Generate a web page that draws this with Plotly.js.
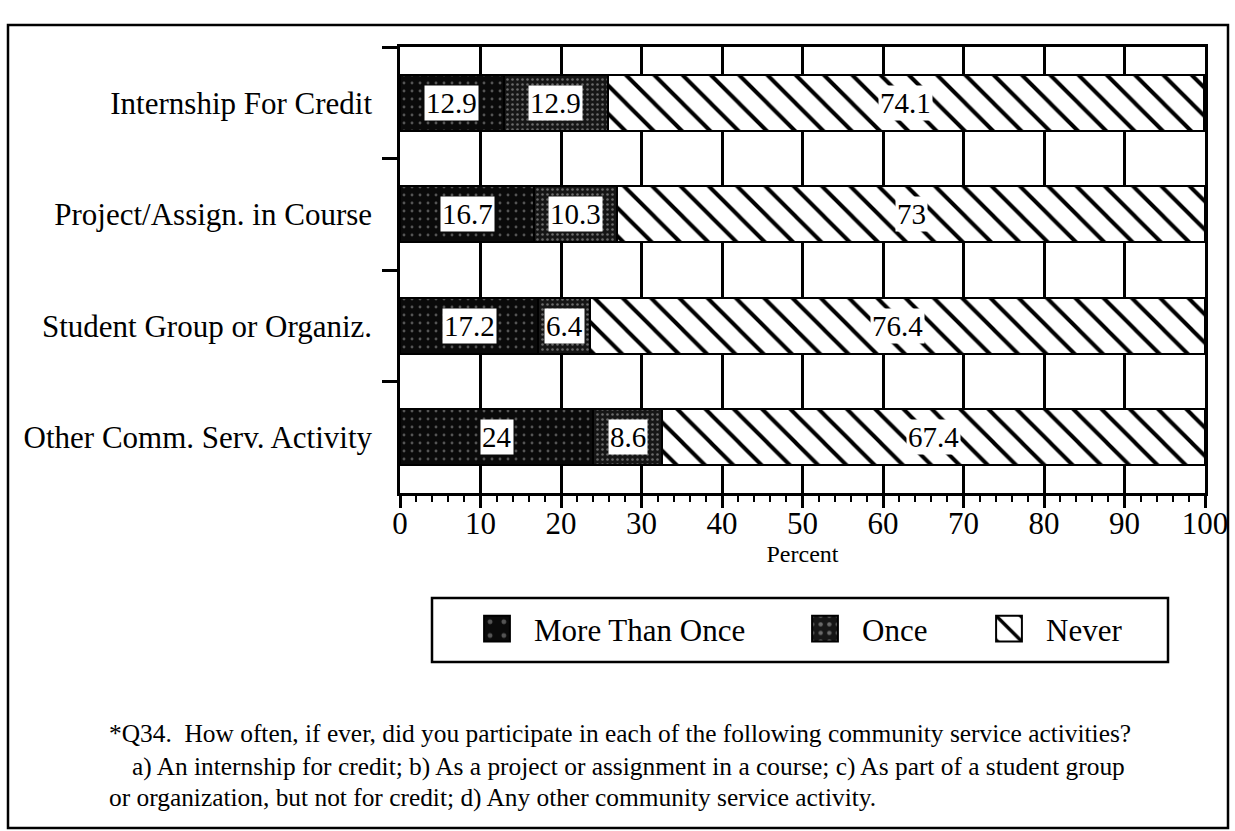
<!DOCTYPE html>
<html><head><meta charset="utf-8">
<script src="https://cdn.plot.ly/plotly-3.0.1.min.js"></script>
<style>html,body{margin:0;padding:0;background:#fff}#chart{width:1235px;height:831px}</style>
</head><body><div id="chart"></div>
<script>
// ---- data ----
const categories = ['Internship For Credit', 'Project/Assign. in Course', 'Student Group or Organiz.', 'Other Comm. Serv. Activity'];
const moreThanOnce = [12.9, 16.7, 17.2, 24];
const once = [12.9, 10.3, 6.4, 8.6];
const never = [74.1, 73, 76.4, 67.4];
const seriesNames = ['More Than Once', 'Once', 'Never'];
const xTickVals = [0, 10, 20, 30, 40, 50, 60, 70, 80, 90, 100];
const xTitle = 'Percent';
const footnote = [
  '*Q34.  How often, if ever, did you participate in each of the following community service activities?',
  'a) An internship for credit; b) As a project or assignment in a course; c) As part of a student group',
  'or organization, but not for credit; d) Any other community service activity.'
];

// ---- layout helpers (pixel -> paper) ----
const W = 1235, H = 831;
const M = {l: 400, r: 30, t: 47, b: 338};
const PW = W - M.l - M.r, PH = H - M.t - M.b;
const px = x => (x - M.l) / PW;
const py = y => (H - M.b - y) / PH;

const FONT = 'Liberation Serif, Times New Roman, serif';
const lineStyle = {color: '#000', width: 2};

const traces = [
  {
    type: 'bar', orientation: 'h', name: seriesNames[0], y: categories, x: moreThanOnce,
    width: 0.5, legend: 'legend',
    marker: {color: '#0a0a0a', line: lineStyle,
      pattern: {shape: '.', bgcolor: '#0a0a0a', fgcolor: '#555', size: 8, solidity: 0.1}},
    hoverinfo: 'x+y+name'
  },
  {
    type: 'bar', orientation: 'h', name: seriesNames[1], y: categories, x: once,
    width: 0.5, legend: 'legend2',
    marker: {color: '#161616', line: lineStyle,
      pattern: {shape: '.', bgcolor: '#161616', fgcolor: '#6a6a6a', size: 5, solidity: 0.2}},
    hoverinfo: 'x+y+name'
  },
  {
    type: 'bar', orientation: 'h', name: seriesNames[2], y: categories, x: never,
    width: 0.5, legend: 'legend3',
    marker: {color: '#fff', line: lineStyle,
      pattern: {shape: '\\', bgcolor: '#fff', fgcolor: '#000', size: 20, solidity: 0.2}},
    hoverinfo: 'x+y+name'
  }
];

// value labels at the middle of each segment
const annotations = [];
categories.forEach((c, i) => {
  const segs = [moreThanOnce[i], once[i], never[i]];
  let start = 0;
  segs.forEach(v => {
    annotations.push({
      xref: 'x', yref: 'y', x: start + v / 2, y: c, text: String(v), showarrow: false,
      font: {family: FONT, size: 29, color: '#000'}, bgcolor: '#fff', borderpad: 1
    });
    start += v;
  });
});
// footnote
const fnX = [107, 130, 107], fnY = [733, 766, 797];
footnote.forEach((t, i) => {
  annotations.push({
    xref: 'paper', yref: 'paper', x: px(fnX[i]), y: py(fnY[i]), xanchor: 'left', yanchor: 'middle',
    text: t, showarrow: false, font: {family: FONT, size: 25.4, color: '#000'}
  });
});

const legendBase = {
  orientation: 'h', yanchor: 'middle', xanchor: 'left', bgcolor: 'rgba(0,0,0,0)',
  borderwidth: 0, itemwidth: 64, font: {family: FONT, size: 31, color: '#000'},
  itemclick: false, itemdoubleclick: false
};

const layout = {
  width: W, height: H, margin: M,
  paper_bgcolor: '#fff', plot_bgcolor: '#fff',
  font: {family: FONT, color: '#000'},
  barmode: 'stack', bargap: 0.5,
  showlegend: true,
  legend: Object.assign({}, legendBase, {x: px(460), y: py(629)}),
  legend2: Object.assign({}, legendBase, {x: px(788), y: py(629)}),
  legend3: Object.assign({}, legendBase, {x: px(972), y: py(629)}),
  xaxis: {
    range: [0, 100], tickvals: xTickVals, ticktext: xTickVals.map(String),
    showgrid: true, gridcolor: '#000', gridwidth: 2.5, zeroline: false,
    showline: true, linecolor: '#000', linewidth: 2.5, mirror: true,
    ticks: 'outside', ticklen: 12, tickwidth: 2.5, tickcolor: '#000',
    minor: {dtick: 2, ticks: 'outside', ticklen: 6, tickwidth: 2, tickcolor: '#000', showgrid: false},
    tickfont: {family: FONT, size: 31, color: '#000'},
    ticklabelstandoff: -11,
    title: {text: xTitle, font: {family: FONT, size: 24, color: '#000'}, standoff: 0},
    fixedrange: true
  },
  yaxis: {
    autorange: 'reversed', type: 'category', tickson: 'boundaries',
    showgrid: false, zeroline: false,
    showline: true, linecolor: '#000', linewidth: 2.5, mirror: true,
    ticks: 'outside', ticklen: 15, tickwidth: 2.5, tickcolor: '#000',
    ticklabelstandoff: 19,
    tickfont: {family: FONT, size: 31, color: '#000'},
    fixedrange: true
  },
  annotations: annotations,
  shapes: [
    {type: 'rect', xref: 'paper', yref: 'paper', x0: px(8), x1: px(1228), y0: py(828), y1: py(25),
     line: {color: '#000', width: 2.5}, layer: 'below'},
    {type: 'rect', xref: 'paper', yref: 'paper', x0: px(432), x1: px(1168), y0: py(662), y1: py(598),
     line: {color: '#000', width: 2.5}}
  ]
};

Plotly.newPlot('chart', traces, layout, {displayModeBar: false}).then(gd => {
  gd.querySelectorAll('.legendpoints path').forEach(p => {
    p.setAttribute('transform', (p.getAttribute('transform') || '') + ' scale(2.15)');
    p.style.vectorEffect = 'non-scaling-stroke';
  });
});
</script>
</body></html>
